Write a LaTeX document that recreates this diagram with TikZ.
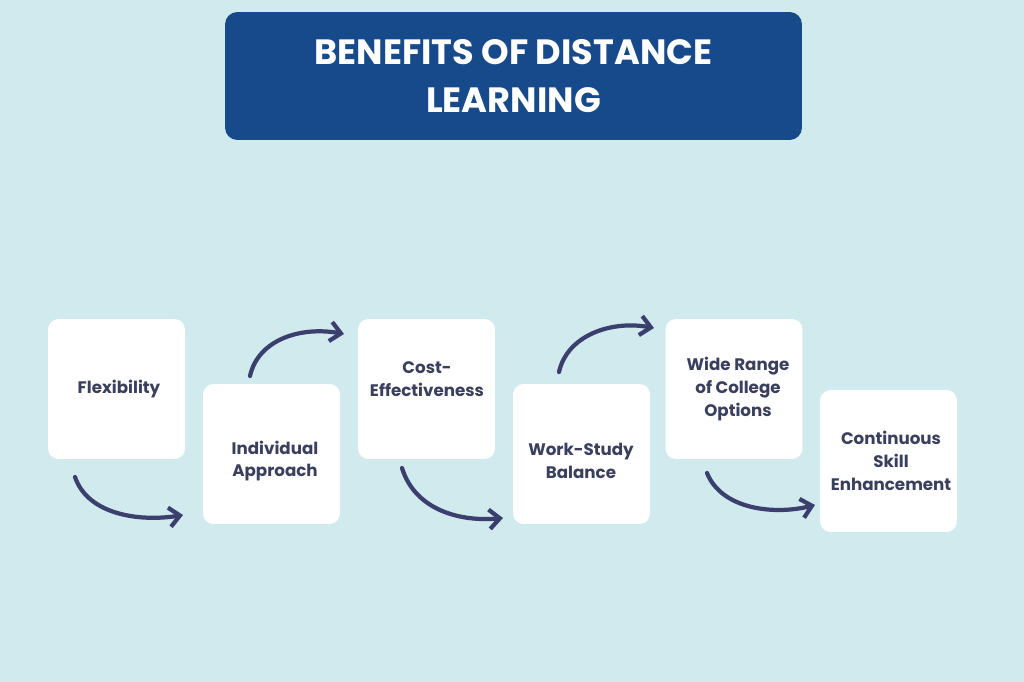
\documentclass[tikz,border=0pt]{standalone}
\usepackage{fontspec}
\setmainfont{Poppins}
\usetikzlibrary{arrows.meta}
\definecolor{bgc}{HTML}{D0EAEE}
\definecolor{titlec}{HTML}{174A8B}
\definecolor{arrc}{HTML}{3A3F6E}
\definecolor{txtc}{HTML}{3A3F5E}
\tikzset{
  card/.style={fill=white,rounded corners=6pt,minimum width=2.74cm,minimum height=2.8cm},
  lbl/.style={text=txtc,font=\fontsize{9.5}{13}\selectfont\bfseries,align=center},
  flow/.style={draw=arrc,line width=2.4pt,line cap=round,-{Straight Barb[length=6pt,width=11pt,line width=2.4pt]}}
}
\begin{document}
\begin{tikzpicture}[x=0.02cm,y=-0.02cm]
    \fill[bgc] (0,0) rectangle (1024,682);
    \useasboundingbox (0,0) rectangle (1024,682);
    \node [fill=titlec,rounded corners=7pt,minimum width=11.54cm,minimum height=2.56cm,text=white,
      font=\fontsize{20}{27}\selectfont\bfseries,align=center] (title) at (513.5,76) {BENEFITS OF DISTANCE\\LEARNING};

    \node [card] (b1) at (116.5,389) {};
    \node [card] (b2) at (271.5,454) {};
    \node [card] (b3) at (426.5,389) {};
    \node [card] (b4) at (581.5,454) {};
    \node [card] (b5) at (734,389) {};
    \node [card,minimum height=2.84cm] (b6) at (888.5,461) {};

    \node [lbl] (t1) at (119,389) {Flexibility};
    \node [lbl] (t2) at (275,461) {Individual\\Approach};
    \node [lbl] (t3) at (427,379) {Cost-\\Effectiveness};
    \node [lbl] (t4) at (581,461) {Work-Study\\Balance};
    \node [lbl] (t5) at (738,389) {Wide Range\\of College\\Options};
    \node [lbl] (t6) at (891,461) {Continuous\\Skill\\Enhancement};

    \coordinate (a1) at (75,477);   \coordinate (e1) at (183,515);
    \coordinate (a2) at (250,376);  \coordinate (e2) at (344,334);
    \coordinate (a3) at (402,468);  \coordinate (e3) at (503,518);
    \coordinate (a4) at (559,372);  \coordinate (e4) at (654,328);
    \coordinate (a5) at (707,473);  \coordinate (e5) at (815,505);

    \draw [flow] (a1) .. controls (88,515) and (140,522) .. (e1);
    \draw [flow] (a2) .. controls (258,340) and (300,326) .. (e2);
    \draw [flow] (a3) .. controls (415,510) and (460,522) .. (e3);
    \draw [flow] (a4) .. controls (567,336) and (610,320) .. (e4);
    \draw [flow] (a5) .. controls (722,510) and (775,515) .. (e5);
\end{tikzpicture}
\end{document}
